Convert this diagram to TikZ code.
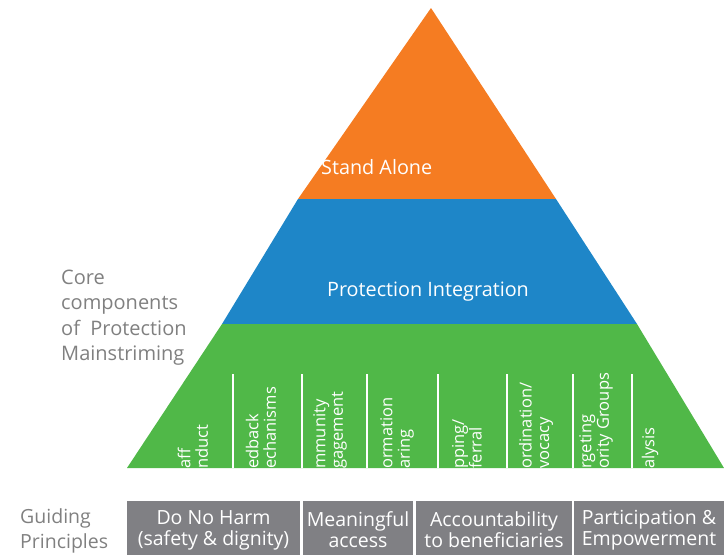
\documentclass[tikz,border=0pt]{standalone}
\usepackage{fontspec}
\setmainfont{Open Sans}
\usetikzlibrary{positioning}

\definecolor{topband}{RGB}{245,124,34}
\definecolor{midband}{RGB}{30,134,200}
\definecolor{lowband}{RGB}{80,184,72}
\definecolor{boxgrey}{RGB}{128,128,132}
\definecolor{labelgrey}{RGB}{128,128,128}

\begin{document}
\begin{tikzpicture}[x=1pt, y=-1pt,
      col/.style={rotate=90, anchor=west, align=left, inner sep=0pt, text=white, font=\fontsize{16.5}{17.5}\selectfont},
      band/.style={text=white, inner sep=0pt, font=\fontsize{19.8}{22}\selectfont},
      principle/.style={rectangle, fill=boxgrey, text=white, align=center, inner sep=0pt, minimum height=58pt, font=\fontsize{19.5}{21}\selectfont},
      side/.style={text=labelgrey, align=left, anchor=west, inner sep=0pt}]

      \useasboundingbox (0,0) rectangle (724,555);

      % Pyramid
      \fill[topband] (431,8) -- (556,199) -- (298,199) -- cycle;
      \fill[midband] (298,199) -- (556,199) -- (637,324) -- (222,324) -- cycle;
      \fill[lowband] (222,324) -- (637,324) -- (724,468) -- (127,468) -- cycle;

      \node[band, anchor=west] (alone) at (321,167) {Stand Alone};
      \node[band] (integration) at (428,291.5) {Protection Integration};

      % Column separators
      \foreach \x in {233,302,367,438,507,573,632} {
        \draw[white, line width=2pt] (\x,374) -- (\x,468);
      }

      \node[col] (conduct) at (193,469) {aff\\nduct};
      \node[col] (feedback) at (261,469) {edback\\echanisms};
      \node[col] (community) at (330,469) {mmunity\\gagement};
      \node[col] (information) at (397,469) {ormation\\aring};
      \node[col] (mapping) at (467,469) {pping/\\ferral};
      \node[col] (coordination) at (536,469) {ordination/\\vocacy};
      \node[col] (targeting) at (596,469) {rgeting\\ority Groups};
      \node[col] (analysis) at (650,469) {alysis};

      % Labels
      \node[side, font=\fontsize{20}{25.5}\selectfont] (core) at (61,317.5) {Core\\components\\of~ Protection\\Mainstriming};
      \node[side, font=\fontsize{19.5}{25}\selectfont] (guiding) at (20,530.5) {Guiding\\Principles};

      % Guiding principles
      \node[principle, minimum width=173pt] (harm) at (213.5,530) {Do No Harm\\(safety \& dignity)};
      \node[principle, minimum width=110pt] (access) at (358,530) {Meaningful\\access};
      \node[principle, minimum width=156pt] (account) at (494,530) {Accountability\\to beneficiaries};
      \node[principle, minimum width=150pt] (participation) at (649,530) {Participation \&\\Empowerment};
    \end{tikzpicture}
\end{document}
